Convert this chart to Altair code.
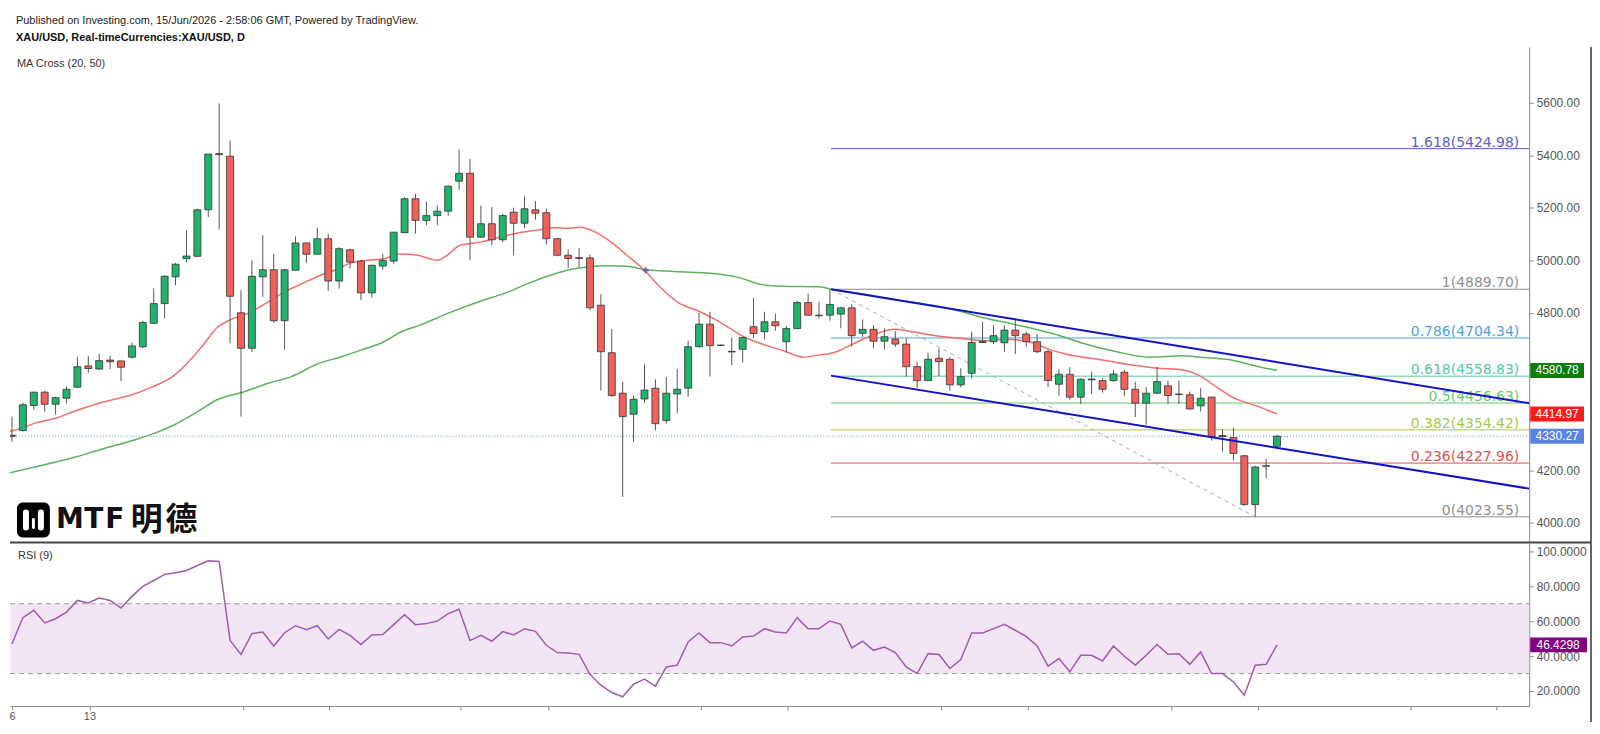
import altair as alt
import pandas as pd

# ---------------- data ----------------
opens = [4334, 4352, 4447, 4498, 4452, 4475, 4517, 4598, 4586, 4620,
         4617, 4631, 4671, 4760, 4835, 4937, 5006, 5015, 5192, 5406,
         5396, 4800, 4665, 4937, 4964, 4770, 4962, 5066, 5023, 5082,
         4921, 5040, 4997, 4876, 4978, 4997, 5105, 5234, 5151, 5170,
         5187, 5301, 5331, 5088, 5139, 5078, 5183, 5141, 5192, 5181,
         5082, 5019, 5010, 5009, 4829, 4648, 4494, 4414, 4472, 4513,
         4390, 4491, 4513, 4671, 4757, 4677, 4653, 4661, 4747, 4728,
         4766, 4690, 4740, 4839, 4791, 4791, 4795, 4819, 4722, 4737,
         4692, 4700, 4681, 4595, 4542, 4627, 4623, 4526, 4570, 4687,
         4690, 4686, 4734, 4719, 4690, 4652, 4528, 4566, 4479, 4545,
         4542, 4542, 4574, 4509, 4456, 4494, 4522, 4491, 4488, 4446,
         4479, 4333, 4325, 4256, 4070, 4218, 4292]
highs = [4405, 4458, 4500, 4503, 4481, 4519, 4633, 4636, 4643, 4636,
         4617, 4687, 4770, 4892, 4943, 4990, 5114, 5196, 5405, 5597,
         5455, 4886, 5000, 5095, 5025, 4968, 5091, 5066, 5124, 5101,
         5050, 5044, 5002, 4981, 5025, 5107, 5240, 5253, 5224, 5208,
         5284, 5421, 5385, 5208, 5202, 5177, 5200, 5243, 5225, 5196,
         5086, 5041, 5047, 5022, 4871, 4738, 4538, 4485, 4604, 4547,
         4555, 4586, 4694, 4800, 4804, 4680, 4706, 4709, 4857, 4804,
         4797, 4749, 4845, 4873, 4842, 4889.7, 4823, 4832, 4775, 4753,
         4741, 4730, 4703, 4614, 4648, 4665, 4631, 4589, 4728, 4766,
         4753, 4753, 4775, 4728, 4719, 4661, 4585, 4593, 4551, 4576,
         4551, 4582, 4582, 4538, 4517, 4595, 4542, 4542, 4500, 4513,
         4481, 4357, 4363, 4259, 4218, 4244, 4336]
lows = [4310, 4348, 4431, 4424, 4412, 4456, 4513, 4572, 4582, 4585,
        4540, 4626, 4665, 4757, 4779, 4905, 4993, 5012, 5164, 5117,
        4684, 4405, 4652, 4861, 4762, 4661, 4962, 4990, 5023, 4883,
        4892, 4968, 4848, 4858, 4964, 4987, 5105, 5101, 5133, 5133,
        5170, 5268, 5000, 5086, 5057, 5069, 5019, 5122, 5154, 5060,
        5015, 4971, 4974, 4810, 4504, 4479, 4099, 4307, 4458, 4352,
        4378, 4418, 4481, 4668, 4557, 4674, 4601, 4611, 4703, 4699,
        4732, 4648, 4738, 4789, 4778, 4770, 4741, 4671, 4709, 4667,
        4661, 4671, 4557, 4513, 4542, 4560, 4504, 4517, 4551, 4686,
        4681, 4652, 4643, 4671, 4646, 4517, 4484, 4469, 4453, 4491,
        4496, 4538, 4484, 4403, 4374, 4491, 4453, 4453, 4431, 4424,
        4314, 4273, 4238, 4066, 4023.55, 4171, 4292]
closes = [4330, 4450, 4498, 4452, 4477, 4509, 4595, 4588, 4618, 4614,
          4593, 4674, 4763, 4835, 4939, 4985, 5016, 5192, 5404, 5402,
          4863, 4665, 4939, 4964, 4770, 4964, 5066, 5023, 5082, 4921,
          5044, 4993, 4876, 4981, 5000, 5107, 5234, 5152, 5170, 5187,
          5282, 5331, 5088, 5139, 5078, 5170, 5141, 5196, 5179, 5082,
          5019, 5007, 5007, 4819, 4652, 4485, 4405, 4471, 4506, 4378,
          4494, 4509, 4671, 4757, 4675, 4676, 4651, 4706, 4721, 4766,
          4751, 4740, 4839, 4791, 4789, 4832, 4819, 4713, 4737, 4692,
          4709, 4681, 4595, 4542, 4623, 4614, 4526, 4557, 4687, 4691,
          4713, 4734, 4713, 4690, 4652, 4542, 4566, 4479, 4547, 4548,
          4509, 4567, 4509, 4456, 4494, 4538, 4485, 4489, 4434, 4475,
          4329, 4329, 4265, 4070, 4213, 4216, 4330.27]
rsi9 = [47.1, 62.0, 66.2, 59.0, 61.4, 65.2, 71.9, 70.4, 73.2, 71.9,
        67.5, 74.2, 79.9, 83.3, 86.8, 87.7, 89.0, 91.9, 94.6, 94.2,
        49.0, 41.0, 52.9, 53.8, 45.8, 53.4, 57.4, 55.1, 57.4, 49.8,
        55.3, 51.9, 46.6, 52.1, 52.3, 58.0, 63.7, 58.0, 58.6, 60.1,
        64.3, 66.8, 48.9, 51.9, 48.5, 54.0, 52.1, 55.7, 54.2, 46.2,
        42.0, 41.8, 41.0, 29.6, 23.3, 19.1, 16.7, 23.9, 26.8, 22.8,
        33.8, 34.8, 48.1, 53.2, 47.7, 47.7, 45.8, 51.0, 51.5, 55.7,
        53.8, 53.2, 62.0, 55.7, 55.7, 60.1, 58.2, 44.7, 48.5, 43.3,
        45.2, 42.0, 33.8, 30.0, 41.4, 40.9, 32.9, 38.0, 53.2, 53.2,
        55.7, 58.2, 54.8, 51.3, 45.8, 34.2, 38.6, 31.0, 40.5, 40.5,
        37.2, 45.8, 39.9, 34.8, 40.5, 46.6, 41.0, 41.4, 35.3, 42.4,
        30.0, 30.0, 25.2, 17.6, 34.8, 35.3, 46.43]

ma20_idx = [-0.3, 0.9, 2.1, 4.0, 6.1, 8.2, 9.8, 11.0, 12.8, 14.9, 16.2, 17.4, 18.9,
            20.1, 21.6, 23.5, 25.0, 26.5, 28.3, 29.6, 31.1, 32.6, 34.1, 35.6, 37.2,
            39.0, 39.9, 41.1, 43.0, 44.8, 46.3, 48.4, 49.7, 50.9, 52.1, 53.3, 54.5,
            56.4, 58.0, 59.4, 61.1, 63.1, 64.6, 66.1, 67.0, 68.6, 70.7, 72.6, 74.0,
            75.3, 77.1, 78.9, 81.0, 82.3, 84.4, 86.8, 89.3, 91.1, 93.5, 95.1, 96.6,
            99.6, 102.7, 105.1, 106.9, 108.8, 110.6, 111.8, 114.3, 116.0]
ma20_val = [4348, 4361, 4380, 4399, 4431, 4459, 4475, 4488, 4517, 4563, 4614, 4671, 4747,
            4775, 4797, 4842, 4880, 4909, 4943, 4962, 4990, 5000, 5006, 5024, 5019,
            5000, 5019, 5057, 5069, 5088, 5103, 5116, 5124, 5122, 5126, 5111, 5082,
            5019, 4962, 4899, 4839, 4804, 4772, 4734, 4711, 4684, 4656, 4631, 4639,
            4648, 4681, 4715, 4737, 4730, 4715, 4703, 4694, 4699, 4687, 4661, 4643,
            4623, 4601, 4589, 4585, 4563, 4513, 4481, 4443, 4415]
ma50_idx = [-0.3, 2.1, 5.8, 8.2, 11.3, 13.1, 14.9, 16.8, 18.9, 21.0, 23.5, 25.6, 28.0,
            30.2, 32.0, 34.1, 35.6, 37.4, 39.9, 43.0, 45.1, 47.3, 49.1, 50.9, 52.7,
            54.5, 56.4, 58.0, 60.0, 61.8, 64.9, 66.7, 68.6, 70.7, 74.0, 75.3, 78.3,
            81.4, 84.4, 86.3, 88.7, 91.8, 94.2, 96.1, 98.2, 101.3, 104.3, 107.4, 108.9,
            111.4, 114.3, 116.0]
ma50_val = [4190, 4213, 4251, 4281, 4317, 4342, 4374, 4418, 4471, 4496, 4532, 4557, 4605,
            4633, 4658, 4690, 4726, 4753, 4797, 4845, 4873, 4911, 4939, 4962, 4974,
            4979, 4977, 4964, 4959, 4955, 4947, 4934, 4909, 4901, 4899, 4888, 4870,
            4848, 4829, 4813, 4785, 4757, 4734, 4713, 4684, 4652, 4631, 4637, 4631,
            4623, 4595, 4581]

fib_ratio = ["1.618", "1", "0.786", "0.618", "0.5", "0.382", "0.236", "0"]
fib_price = [5424.98, 4889.70, 4704.34, 4558.83, 4456.63, 4354.42, 4227.96, 4023.55]
fib_color = ["#5b5ec6", "#8f8f8f", "#4fa3d8", "#55c9a2", "#66cc66", "#a6c84c", "#d9534f", "#8f8f8f"]
fib_start = 75.1

chan_name = ["upper", "upper", "lower", "lower"]
chan_idx = [75.1, 139.12, 75.1, 139.12]
chan_val = [4889.7, 4456.0, 4560.9, 4130.8]
diag_idx = [75.1, 114.0]
diag_val = [4889.7, 4023.55]
cross_idx = [58.1]
cross_val = [4962]

last_price = 4330.27
tag_val = [4580.78, 4414.97, 4330.27]
tag_color = ["#0b7d0b", "#ff1a1a", "#5a84e3"]
rsi_last = 46.4298

price_ticks = [4000, 4200, 4400, 4600, 4800, 5000, 5200, 5400, 5600]
hidden_price_labels = [4400, 4600]   # covered by the coloured value tags
rsi_ticks = [20, 40, 60, 80, 100]
time_ticks = [0, 7.1, 21.2, 29.1, 41.1, 49.2, 63.2, 71.1, 85.2, 93.1, 106.3, 114.3, 128.2, 136.1]
time_labels = ["6", "13", "", "", "", "", "", "", "", "", "", "", "", ""]

HEAD1 = "Published on Investing.com, 15/Jun/2026 - 2:58:06 GMT, Powered by TradingView."
HEAD2 = "XAU/USD, Real-timeCurrencies:XAU/USD, D"

# ---------------- layout ----------------
W = 1524
H_HEAD = 38
H_PRICE = 497
H_RSI = 164
GREEN = "#1fb36e"
RED = "#f2605a"
NOVIEW = alt.ViewBackground(stroke=None, strokeWidth=0)

XS = alt.Scale(domain=[-0.18, 139.12], nice=False, zero=False, padding=0)
PS = alt.Scale(domain=[3926.0, 5811.7], nice=False, zero=False)
RS = alt.Scale(domain=[11.45, 105.1], nice=False, zero=False)

p_expr = " || ".join(f"datum.value == {v}" for v in hidden_price_labels)
PAX = alt.Axis(orient="right", values=price_ticks, format=".2f", title=None, grid=False,
               labelExpr=f"({p_expr}) ? '' : format(datum.value, '.2f')",
               labelFontSize=12, labelColor="#555", tickColor="#888", domainColor="#888",
               tickSize=4, labelPadding=3, labelFlush=False)
RAX = alt.Axis(orient="right", values=rsi_ticks, format=".4f", title=None, grid=False,
               labelFontSize=12, labelColor="#555", tickColor="#888", domainColor="#888",
               tickSize=4, labelPadding=3, labelFlush=False)
lab_expr = " : ".join(f"datum.value == {v} ? '{t}'" for v, t in zip(time_ticks, time_labels) if t) + " : ''"
XAX = alt.Axis(values=time_ticks, labelExpr=lab_expr, title=None, grid=False, labelFontSize=11,
               labelColor="#555", tickColor="#888", domainColor="#888", tickSize=4,
               labelPadding=1, labelFlush=False, labelBound=False, labelOverlap=False)

one = alt.Data(values=[{"k": 1}])


def px(field):
    return alt.Y(field, scale=PS, axis=PAX, title=None)


def rx(field):
    return alt.Y(field, scale=RS, axis=RAX, title=None)


def xi(field):
    return alt.X(field, scale=XS, axis=None, title=None)


def deco_text(text, x, y, **kw):
    return alt.Chart(one).mark_text(**kw).encode(x=alt.value(x), y=alt.value(y), text=alt.value(text))


# ---------------- header ----------------
header = alt.layer(
    deco_text(HEAD1, 6, 12, align="left", baseline="middle", fontSize=11, color="#222"),
    deco_text(HEAD2, 6, 29, align="left", baseline="middle", fontSize=11, fontWeight="bold", color="#111"),
).properties(width=W, height=H_HEAD, view=NOVIEW)

# ---------------- price panel ----------------
cdf = pd.DataFrame({"i": list(range(len(opens))), "o": opens, "h": highs, "l": lows, "c": closes})
fdf = pd.DataFrame({"ratio": fib_ratio, "p": fib_price, "col": fib_color})
fdf["lab"] = [f"{r}({p:.2f})" for r, p in zip(fib_ratio, fib_price)]
fdf["s"] = fib_start
m20 = pd.DataFrame({"i": ma20_idx, "v": ma20_val})
m50 = pd.DataFrame({"i": ma50_idx, "v": ma50_val})
chdf = pd.DataFrame({"n": chan_name, "i": chan_idx, "v": chan_val})
dgdf = pd.DataFrame({"i": diag_idx, "v": diag_val})
crdf = pd.DataFrame({"i": cross_idx, "v": cross_val})
tdf = pd.DataFrame({"v": tag_val, "col": tag_color})
tdf["lo"] = tdf["v"] - 28.5
tdf["hi"] = tdf["v"] + 28.5
tdf["t"] = [f"{v:.2f}" for v in tag_val]
lpdf = pd.DataFrame({"v": [last_price]})

fib_lines = alt.Chart(fdf).mark_rule(strokeWidth=1).encode(
    x=xi("s:Q"), x2=alt.value(W), y=px("p:Q"), color=alt.Color("col:N", scale=None))
fib_labels = alt.Chart(fdf).mark_text(align="right", baseline="alphabetic", dy=-2,
                                      font="DejaVu Sans", fontSize=14).encode(
    x=alt.value(W - 10), y=px("p:Q"), text="lab:N", color=alt.Color("col:N", scale=None))
last_line = alt.Chart(lpdf).mark_rule(color="#5b82e0", strokeDash=[1, 2], strokeWidth=1).encode(
    x=alt.value(0), x2=alt.value(W), y=px("v:Q"))
ma20_line = alt.Chart(m20).mark_line(color="#f0706a", strokeWidth=1.5, clip=True,
                                     interpolate="monotone").encode(x=xi("i:Q"), y=px("v:Q"))
ma50_line = alt.Chart(m50).mark_line(color="#5cb35c", strokeWidth=1.5, clip=True,
                                     interpolate="monotone").encode(x=xi("i:Q"), y=px("v:Q"))
diag = alt.Chart(dgdf).mark_line(color="#a8a8a8", strokeDash=[4, 4], strokeWidth=1).encode(
    x=xi("i:Q"), y=px("v:Q"))
wicks = alt.Chart(cdf).mark_rule(color="#555", strokeWidth=1, clip=True).encode(
    x=xi("i:Q"), y=px("l:Q"), y2="h:Q")
bodies = alt.Chart(cdf).mark_bar(size=7, stroke="#333", strokeWidth=0.8, clip=True).encode(
    x=xi("i:Q"), y=px("o:Q"), y2="c:Q",
    fill=alt.condition("datum.c >= datum.o", alt.value(GREEN), alt.value(RED)))
channel = alt.Chart(chdf).mark_line(color="#1414c4", strokeWidth=2, clip=True).encode(
    x=xi("i:Q"), y=px("v:Q"), detail="n:N")
cross = alt.Chart(crdf).mark_point(shape="cross", filled=True, size=35, color="#4b3ca8").encode(
    x=xi("i:Q"), y=px("v:Q"))
tag_box = alt.Chart(tdf).mark_rect().encode(
    x=alt.value(W + 1), x2=alt.value(W + 55), y=px("lo:Q"), y2="hi:Q",
    color=alt.Color("col:N", scale=None))
tag_txt = alt.Chart(tdf).mark_text(color="white", fontSize=12, align="center", baseline="middle").encode(
    x=alt.value(W + 28), y=px("v:Q"), text="t:N")

sep = alt.Chart(one).mark_rule(color="#444", strokeWidth=2).encode(
    x=alt.value(0), x2=alt.value(W + 62), y=alt.value(H_PRICE))
border_p = alt.Chart(one).mark_rule(color="#333", strokeWidth=1.5).encode(
    x=alt.value(W + 62), y=alt.value(0), y2=alt.value(H_PRICE))
ma_title = deco_text("MA Cross (20, 50)", 7, 17, align="left", baseline="middle", fontSize=11, color="#333")

logo_box = alt.Chart(one).mark_rect(cornerRadius=6, color="#000").encode(
    x=alt.value(7), x2=alt.value(40), y=alt.value(457), y2=alt.value(492))
logo_l = alt.Chart(one).mark_rule(color="white", strokeWidth=6, strokeCap="round").encode(
    x=alt.value(16), y=alt.value(467), y2=alt.value(482))
logo_m = alt.Chart(one).mark_rule(color="white", strokeWidth=3, strokeCap="round").encode(
    x=alt.value(23.5), y=alt.value(474), y2=alt.value(482))
logo_r = alt.Chart(one).mark_rule(color="white", strokeWidth=6, strokeCap="round").encode(
    x=alt.value(31), y=alt.value(467), y2=alt.value(482))
LOGO = dict(align="center", baseline="middle", fontWeight="bold", color="#111")
logo_txt = [
    deco_text("M", 60, 475, font="DejaVu Sans", fontSize=28, **LOGO),
    deco_text("T", 84, 475, font="DejaVu Sans", fontSize=28, **LOGO),
    deco_text("F", 105, 475, font="DejaVu Sans", fontSize=28, **LOGO),
    deco_text("明", 137, 475, font="Noto Sans CJK SC", fontSize=32, **LOGO),
    deco_text("德", 172, 475, font="Noto Sans CJK SC", fontSize=32, **LOGO),
]

price = alt.layer(
    last_line, fib_lines, fib_labels, ma50_line, ma20_line, diag, wicks, bodies, channel, cross,
    tag_box, tag_txt, sep, border_p, ma_title, logo_box, logo_l, logo_m, logo_r, *logo_txt
).properties(width=W, height=H_PRICE, view=NOVIEW)

# ---------------- RSI panel ----------------
rdf = pd.DataFrame({"i": list(range(len(rsi9))), "r": rsi9})
band = alt.Chart(pd.DataFrame({"lo": [30], "hi": [70]})).mark_rect(color="#f2e5f4").encode(
    x=alt.value(0), x2=alt.value(W), y=rx("lo:Q"), y2="hi:Q")
band_lines = alt.Chart(pd.DataFrame({"v": [30, 70]})).mark_rule(
    color="#9a9a9a", strokeDash=[5, 4], strokeWidth=1).encode(
    x=alt.value(0), x2=alt.value(W), y=rx("v:Q"))
rsi_line = alt.Chart(rdf).mark_line(color="#a25bb2", strokeWidth=1.5, clip=True).encode(
    x=alt.X("i:Q", scale=XS, axis=XAX, title=None), y=rx("r:Q"))
rt = pd.DataFrame({"v": [rsi_last], "lo": [rsi_last - 4.28], "hi": [rsi_last + 4.28],
                   "t": [f"{rsi_last:.4f}"]})
rsi_box = alt.Chart(rt).mark_rect(color="#800080").encode(
    x=alt.value(W + 1), x2=alt.value(W + 58), y=rx("lo:Q"), y2="hi:Q")
rsi_txt = alt.Chart(rt).mark_text(color="white", fontSize=12, align="center", baseline="middle").encode(
    x=alt.value(W + 29), y=rx("v:Q"), text="t:N")
border_r = alt.Chart(one).mark_rule(color="#333", strokeWidth=1.5).encode(
    x=alt.value(W + 62), y=alt.value(0), y2=alt.value(H_RSI + 16))
rsi_title = deco_text("RSI (9)", 8, 14, align="left", baseline="middle", fontSize=11, color="#333")

rsi = alt.layer(band, band_lines, rsi_line, rsi_box, rsi_txt, border_r, rsi_title).properties(
    width=W, height=H_RSI, view=NOVIEW)

chart = alt.vconcat(header, price, rsi, spacing=0, bounds="flush", padding=0).configure_view(
    stroke=None, strokeWidth=0).configure(font="Liberation Sans")

chart.save("out.html", embed_options={"renderer": "svg", "actions": False})
